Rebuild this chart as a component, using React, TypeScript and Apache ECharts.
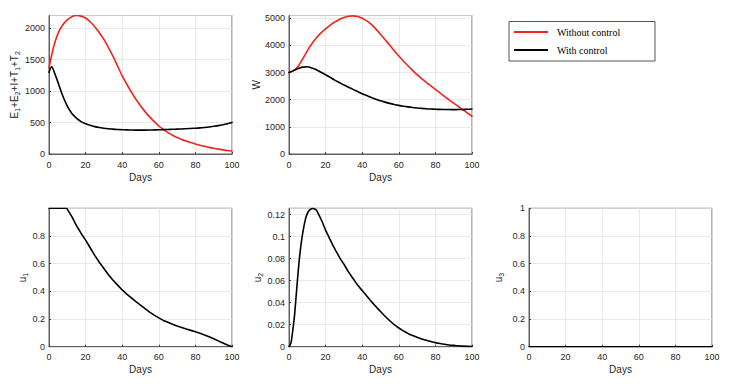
import React, { useEffect, useRef } from "react";
import * as echarts from "echarts";

// ---- Data ----
const tStep = [0, 2.5, 5, 7.5, 10, 12.5, 15, 17.5, 20, 22.5, 25, 27.5, 30, 32.5, 35, 37.5, 40, 42.5, 45, 47.5, 50, 52.5, 55, 57.5, 60, 62.5, 65, 67.5, 70, 72.5, 75, 77.5, 80, 82.5, 85, 87.5, 90, 92.5, 95, 97.5, 100];

// E1+E2+I+T1+T2, without control
const vRedE = [1370, 1700, 1920, 2050, 2130, 2180, 2200, 2190, 2160, 2100, 2020, 1925, 1820, 1690, 1550, 1395, 1240, 1108, 985, 870, 765, 673, 590, 515, 445, 390, 340, 298, 262, 232, 205, 181, 160, 140, 122, 105, 90, 77, 66, 56, 48];

// E1+E2+I+T1+T2, with control
const tBlkE = [0, 1.5, 3, 4.5, 6, 7.5, 10, 12.5, 15, 17.5, 20, 22.5, 25, 27.5, 30, 32.5, 35, 37.5, 40, 42.5, 45, 47.5, 50, 52.5, 55, 57.5, 60, 62.5, 65, 67.5, 70, 72.5, 75, 77.5, 80, 82.5, 85, 87.5, 90, 92.5, 95, 97.5, 100];
const vBlkE = [1300, 1385, 1290, 1170, 1045, 925, 760, 645, 570, 515, 480, 455, 435, 420, 410, 402, 395, 390, 386, 383, 381, 380, 380, 380, 381, 383, 385, 387, 390, 392, 395, 398, 402, 406, 410, 415, 422, 430, 440, 451, 465, 482, 502];

// W, without / with control
const vRedW = [3000, 3070, 3230, 3500, 3800, 4060, 4280, 4460, 4610, 4745, 4860, 4955, 5030, 5075, 5085, 5060, 5000, 4900, 4770, 4600, 4410, 4210, 4010, 3805, 3610, 3425, 3250, 3080, 2920, 2775, 2640, 2510, 2380, 2250, 2120, 1995, 1870, 1750, 1630, 1510, 1390];
const vBlkW = [3000, 3070, 3150, 3200, 3215, 3170, 3100, 3010, 2920, 2820, 2720, 2630, 2540, 2460, 2380, 2300, 2220, 2150, 2080, 2020, 1960, 1910, 1865, 1825, 1790, 1760, 1735, 1713, 1695, 1679, 1665, 1655, 1648, 1642, 1638, 1636, 1635, 1636, 1640, 1647, 1655];

// u1
const tU1 = [0, 5, 9.7, 12.5, 15, 17.5, 20, 22.5, 25, 27.5, 30, 32.5, 35, 37.5, 40, 42.5, 45, 47.5, 50, 52.5, 55, 57.5, 60, 62.5, 65, 67.5, 70, 72.5, 75, 77.5, 80, 82.5, 85, 87.5, 90, 92.5, 95, 97.5, 100];
const vU1 = [1, 1, 1, 0.94, 0.875, 0.82, 0.77, 0.715, 0.66, 0.61, 0.565, 0.52, 0.48, 0.445, 0.41, 0.38, 0.352, 0.325, 0.3, 0.275, 0.25, 0.228, 0.208, 0.19, 0.176, 0.162, 0.15, 0.139, 0.128, 0.118, 0.108, 0.097, 0.085, 0.072, 0.057, 0.042, 0.027, 0.012, 0];

// u2
const tU2 = [0, 1, 2, 3, 4, 5, 6, 7, 8, 9, 10, 11, 12, 13, 14, 15, 16, 18, 20, 22, 24, 26, 28, 30, 32.5, 35, 37.5, 40, 42.5, 45, 47.5, 50, 52.5, 55, 57.5, 60, 62.5, 65, 67.5, 70, 72.5, 75, 77.5, 80, 82.5, 85, 87.5, 90, 92.5, 95, 97.5, 100];
const vU2 = [0, 0.003, 0.014, 0.028, 0.048, 0.068, 0.085, 0.098, 0.108, 0.116, 0.121, 0.1237, 0.1252, 0.1257, 0.1252, 0.124, 0.121, 0.114, 0.106, 0.099, 0.092, 0.086, 0.08, 0.075, 0.068, 0.062, 0.056, 0.051, 0.046, 0.041, 0.0365, 0.032, 0.0277, 0.0237, 0.02, 0.017, 0.0144, 0.012, 0.0101, 0.0085, 0.0071, 0.0058, 0.0047, 0.0037, 0.0029, 0.0022, 0.0016, 0.0012, 0.0008, 0.0005, 0.0003, 0.0002];

// u3
const tU3 = [0, 100];
const vU3 = [0, 0];

const xTicks = { min: 0, max: 100, interval: 20 };
const legendNames = ["Without control", "With control"];

const RED = "#f0241a";
const BLACK = "#000000";
const TXT = "#262626";
const FONT = "'Liberation Sans', Arial, Helvetica, sans-serif";
const SERIF = "'Liberation Serif', 'Times New Roman', serif";

const pairs = (t: number[], v: number[]) => t.map((x, i) => [x, v[i]]);

export default function App() {
  const ref = useRef<HTMLDivElement>(null);
  useEffect(() => {
    if (!ref.current) return;
    const chart = echarts.init(ref.current, undefined, { renderer: "svg" });

    const grids = [
      { left: 49, top: 15.5, width: 183, height: 138.5 },
      { left: 289, top: 15.5, width: 183, height: 138.5 },
      { left: 49, top: 208.3, width: 183, height: 138.4 },
      { left: 289, top: 208.3, width: 183, height: 138.4 },
      { left: 529, top: 208.3, width: 183, height: 138.4 },
    ].map((g) => ({ ...g, show: true, borderColor: "#404040", borderWidth: 0.8, backgroundColor: "transparent" }));

    const xAxes = grids.map((_, i) => ({
      type: "value",
      gridIndex: i,
      ...xTicks,
      name: "Days",
      nameLocation: "middle",
      nameGap: 18,
      nameTextStyle: { fontSize: 10, color: TXT, fontFamily: FONT },
      axisLine: { show: true, lineStyle: { color: "#404040", width: 0.8 } },
      axisTick: { show: true, inside: true, length: 2, lineStyle: { color: "#404040" } },
      axisLabel: { fontSize: 9, color: TXT, fontFamily: FONT, margin: 6 },
      splitLine: { show: true, lineStyle: { color: "#e3e3e3", width: 0.8 } },
    }));

    const rich = {
      n: { fontSize: 10, color: TXT, fontFamily: FONT },
      s: { fontSize: 7, color: TXT, fontFamily: FONT, padding: [6, 0, 0, 0] },
    };

    const yBase = (i: number, min: number, max: number, interval: number, name: string, gap: number, showMax: boolean, fmt?: (v: number) => string) => ({
      type: "value",
      gridIndex: i,
      min,
      max,
      interval,
      name,
      nameLocation: "middle",
      nameRotate: 90,
      nameGap: gap,
      nameTextStyle: { fontSize: 10, color: TXT, fontFamily: FONT, rich },
      axisLine: { show: true, lineStyle: { color: "#404040", width: 0.8 } },
      axisTick: { show: true, inside: true, length: 2, lineStyle: { color: "#404040" } },
      axisLabel: {
        fontSize: 9,
        color: TXT,
        fontFamily: FONT,
        margin: 4,
        showMaxLabel: showMax,
        formatter: fmt || ((v: number) => String(v)),
      },
      splitLine: { show: true, lineStyle: { color: "#e3e3e3", width: 0.8 } },
    });

    const dec = (v: number) => String(+v.toFixed(3));

    const yAxes = [
      yBase(0, 0, 2200, 500, "{n|E}{s|1}{n|+E}{s|2}{n|+I+T}{s|1}{n|+T}{s|2}", 27, false),
      yBase(1, 0, 5100, 1000, "{n|W}", 26, false),
      yBase(2, 0, 1, 0.2, "{n|u}{s|1}", 20, false, dec),
      yBase(3, 0, 0.1258, 0.02, "{n|u}{s|2}", 24, false, dec),
      yBase(4, 0, 1, 0.2, "{n|u}{s|3}", 24, true, dec),
    ];

    const line = (name: string, color: string, idx: number, data: number[][], smooth: number | boolean = 0.3) => ({
      type: "line",
      name,
      xAxisIndex: idx,
      yAxisIndex: idx,
      data,
      showSymbol: false,
      symbol: "none",
      smooth,
      lineStyle: { color, width: 1.6, join: "round", cap: "round" },
      itemStyle: { color },
      clip: true,
    });

    // legend drawn as graphic (box, line samples, labels)
    const LX = 509, LY = 21.5, LW = 146, LH = 39.5;
    const legendGraphic = [
      { type: "rect", shape: { x: LX, y: LY, width: LW, height: LH }, style: { fill: "#fff", stroke: "#555", lineWidth: 1 } },
      ...legendNames.map((nm, i) => ({
        type: "group",
        children: [
          { type: "line", shape: { x1: LX + 5, y1: 32 + i * 18, x2: LX + 39, y2: 32 + i * 18 }, style: { stroke: i === 0 ? RED : BLACK, lineWidth: 1.8 } },
          { type: "text", x: LX + 48, y: 32 + i * 18, style: { text: nm, fontSize: 10, fontFamily: SERIF, fill: "#000", textVerticalAlign: "middle", verticalAlign: "middle" } },
        ],
      })),
    ];

    const option = {
      animation: false,
      backgroundColor: "#ffffff",
      grid: grids,
      xAxis: xAxes,
      yAxis: yAxes,
      graphic: legendGraphic,
      series: [
        line("Without control", RED, 0, pairs(tStep, vRedE)),
        line("With control", BLACK, 0, pairs(tBlkE, vBlkE)),
        line("Without control", RED, 1, pairs(tStep, vRedW)),
        line("With control", BLACK, 1, pairs(tStep, vBlkW)),
        line("u1", BLACK, 2, pairs(tU1, vU1), false),
        line("u2", BLACK, 3, pairs(tU2, vU2)),
        line("u3", BLACK, 4, pairs(tU3, vU3), false),
      ],
    };
    chart.setOption(option as any);
    return () => chart.dispose();
  }, []);
  return <div ref={ref} style={{ position: "fixed", left: 0, top: 0, width: 731, height: 386, background: "#fff" }} />;
}
